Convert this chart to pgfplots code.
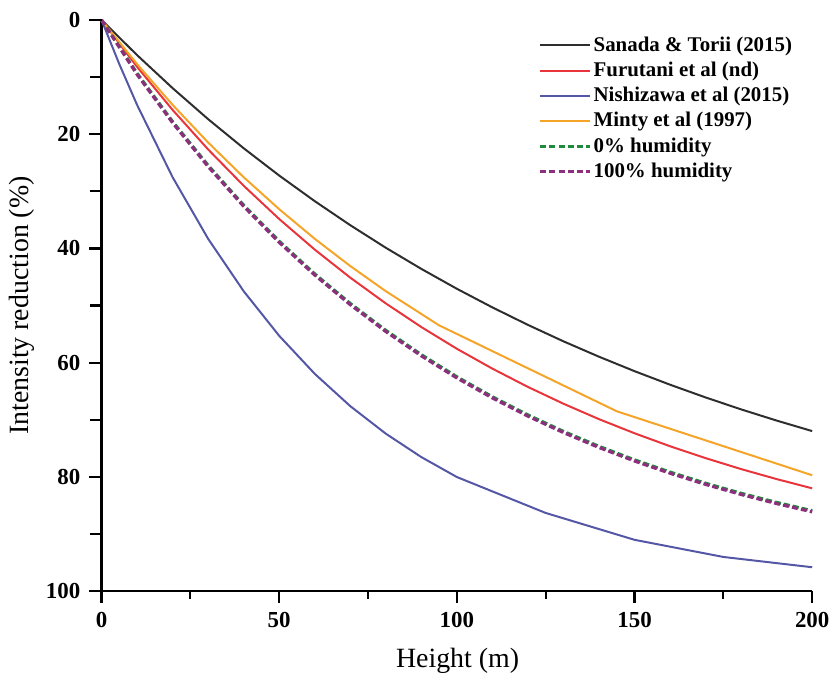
\documentclass[border=0pt]{standalone}
\usepackage{fontspec}
\setmainfont{Liberation Serif}
\usepackage{pgfplots}
\pgfplotsset{compat=1.18}
\definecolor{cblack}{HTML}{2E2E2E}
\definecolor{cred}{HTML}{E8353B}
\definecolor{cblue}{HTML}{5457A6}
\definecolor{corange}{HTML}{F5A428}
\definecolor{cgreen}{HTML}{1E8B3C}
\definecolor{cpurple}{HTML}{8E2F7E}
\begin{document}
\begin{tikzpicture}
\begin{axis}[
  scale only axis, width=357pt, height=287pt,
  xmin=0, xmax=200, ymin=-100, ymax=0,
  y filter/.expression={-y},
  axis lines=left, axis line style={-, line width=1.2pt, black},
  xtick={0,50,100,150,200}, ytick={-100,-80,-60,-40,-20,0},
  yticklabel={\pgfmathparse{abs(\tick)}\pgfmathprintnumber[fixed,precision=0]{\pgfmathresult}},
  major tick style={draw=none}, minor tick num=0,
  /pgf/number format/assume math mode=true,
  ticklabel style={font=\fontsize{11.5}{13}\selectfont\bfseries},
  xticklabel style={yshift=-5pt},
  yticklabel style={xshift=-5pt},
  xlabel={Height (m)}, ylabel={Intensity reduction (\%)},
  every axis x label/.style={at={(axis description cs:0.501,-0.122)}, anchor=center, font=\fontsize{14}{16}\selectfont},
  every axis y label/.style={at={(axis description cs:-0.112,0.5)}, rotate=90, anchor=center, font=\fontsize{14}{16}\selectfont},
  clip=false,
  legend cell align=left,
  legend style={at={(axis description cs:0.975,0.975)}, anchor=north east, draw=none, fill=none,
    font=\fontsize{10.5}{12}\selectfont\bfseries, row sep=1.9pt, inner sep=0pt,
    nodes={inner sep=1pt}},
  legend image code/.code={\draw[#1] (0pt,0pt) -- (25pt,0pt);},
]
\addplot[cblack, line width=1pt] coordinates {(0,0)(10,6.16)(20,11.94)(30,17.37)(40,22.46)(50,27.24)(60,31.72)(70,35.93)(80,39.88)(90,43.58)(100,47.06)(110,50.32)(120,53.38)(130,56.26)(140,58.95)(150,61.48)(160,63.85)(170,66.08)(180,68.17)(190,70.13)(200,71.97)};
\addlegendentry{Sanada \& Torii (2015)}
\addplot[cred, line width=1pt] coordinates {(0,0)(10,8.21)(20,15.75)(30,22.67)(40,29.02)(50,34.85)(60,40.20)(70,45.11)(80,49.62)(90,53.76)(100,57.56)(110,61.04)(120,64.24)(130,67.18)(140,69.88)(150,72.35)(160,74.62)(170,76.70)(180,78.62)(190,80.37)(200,81.99)};
\addlegendentry{Furutani et al (nd)}
\addplot[cblue, line width=1pt] coordinates {(0,0)(5,7.73)(10,14.87)(20,27.53)(30,38.31)(40,47.48)(50,55.29)(60,61.94)(70,67.60)(80,72.42)(90,76.52)(100,80.01)(125,86.3)(150,91.0)(175,94.0)(200,95.8)};
\addlegendentry{Nishizawa et al (2015)}
\addplot[corange, line width=1pt] coordinates {(0,0)(10,7.73)(20,14.87)(30,21.46)(40,27.53)(50,33.13)(60,38.31)(70,43.08)(80,47.48)(95,53.46)(145,68.5)(200,79.7)};
\addlegendentry{Minty et al (1997)}
\addplot[cgreen, line width=1.6pt, dash pattern=on 3pt off 1.6pt] coordinates {(0,0)(10,9.34)(20,17.80)(30,25.47)(40,32.43)(50,38.74)(60,44.46)(70,49.64)(80,54.34)(90,58.60)(100,62.47)(110,65.97)(120,69.15)(130,72.03)(140,74.64)(150,77.01)(160,79.15)(170,81.10)(180,82.86)(190,84.46)(200,85.91)};
\addlegendentry{0\% humidity}
\addplot[cpurple, line width=1.6pt, dash pattern=on 3pt off 1.6pt] coordinates {(0,0)(10,9.54)(20,18.00)(30,25.67)(40,32.63)(50,38.94)(60,44.66)(70,49.84)(80,54.54)(90,58.80)(100,62.67)(110,66.17)(120,69.35)(130,72.23)(140,74.84)(150,77.21)(160,79.35)(170,81.30)(180,83.06)(190,84.66)(200,86.11)};
\addlegendentry{100\% humidity}
\pgfplotsinvokeforeach{0,50,100,150,200}{\draw[black, line width=1.1pt] (axis cs:#1,-100) -- ++(0pt,-6pt);}
\pgfplotsinvokeforeach{25,75,125,175}{\draw[black, line width=1.1pt] (axis cs:#1,-100) -- ++(0pt,-4pt);}
\pgfplotsinvokeforeach{0,-20,-40,-60,-80,-100}{\draw[black, line width=1.1pt] (axis cs:0,#1) -- ++(-6.5pt,0pt);}
\pgfplotsinvokeforeach{-10,-30,-50,-70,-90}{\draw[black, line width=1.1pt] (axis cs:0,#1) -- ++(-6pt,0pt);}
\end{axis}
\path ([xshift=-51pt,yshift=-43.5pt]current axis.south west) rectangle ([xshift=10pt,yshift=10pt]current axis.north east);
\end{tikzpicture}
\end{document}
